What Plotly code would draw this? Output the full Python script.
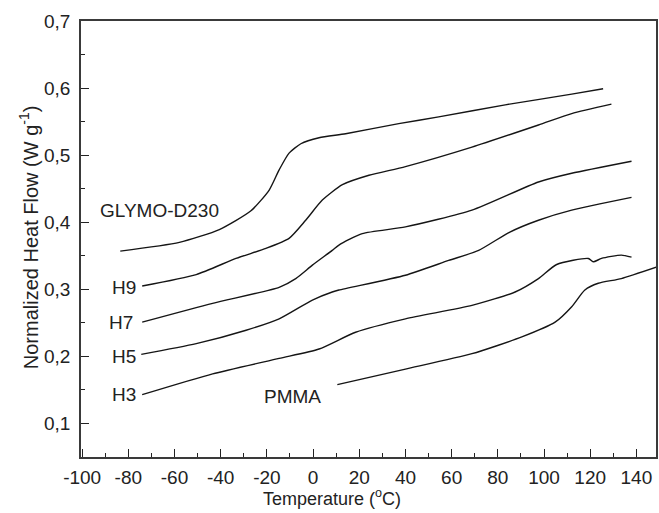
import plotly.graph_objects as go

# ---- data ----
glymo_x = [-83.5, -57.9, -40.6, -26.9, -19.0, -14.7, -10.4, -5.3, 2.6, 14.1, 37.1, 54.4, 83.2, 112.0, 125.6]
glymo_y = [0.357, 0.370, 0.389, 0.417, 0.448, 0.478, 0.503, 0.517, 0.526, 0.532, 0.547, 0.557, 0.575, 0.591, 0.599]

h9_x = [-74.0, -50.6, -33.4, -20.4, -10.4, -3.2, 4.0, 12.7, 24.2, 40.0, 68.8, 97.6, 112.0, 129.2]
h9_y = [0.305, 0.322, 0.346, 0.361, 0.376, 0.403, 0.433, 0.456, 0.470, 0.483, 0.512, 0.545, 0.562, 0.576]

h7_x = [-74.0, -43.5, -14.7, -7.5, -0.3, 8.3, 11.2, 21.3, 40.0, 68.8, 97.6, 112.0, 137.9]
h7_y = [0.251, 0.279, 0.303, 0.316, 0.336, 0.358, 0.366, 0.383, 0.393, 0.418, 0.460, 0.473, 0.491]

h5_x = [-74.4, -50.6, -29.0, -14.7, -0.3, 8.3, 11.2, 40.0, 58.7, 71.7, 85.0, 97.6, 112.0, 137.9]
h5_y = [0.203, 0.219, 0.239, 0.256, 0.284, 0.296, 0.299, 0.321, 0.343, 0.358, 0.385, 0.403, 0.418, 0.437]

h3_x = [-74.0, -43.5, -14.7, 2.6, 18.4, 40.0, 68.8, 87.5, 97.6, 105.5, 119.2, 121.3, 124.9, 133.5, 137.9]
h3_y = [0.143, 0.174, 0.197, 0.211, 0.236, 0.256, 0.276, 0.296, 0.316, 0.337, 0.346, 0.341, 0.346, 0.351, 0.348]

pmma_x = [10.5, 40.0, 68.8, 90.4, 104.8, 112.0, 117.7, 123.5, 133.5, 148.7]
pmma_y = [0.158, 0.181, 0.204, 0.229, 0.251, 0.274, 0.299, 0.309, 0.316, 0.333]

series = [
    ("GLYMO-D230", glymo_x, glymo_y),
    ("H9", h9_x, h9_y),
    ("H7", h7_x, h7_y),
    ("H5", h5_x, h5_y),
    ("H3", h3_x, h3_y),
    ("PMMA", pmma_x, pmma_y),
]

label_text = ["GLYMO-D230", "H9", "H7", "H5", "H3", "PMMA"]
label_x = [-66.3, -82.0, -83.0, -81.8, -81.7, -8.9]
label_y = [0.417, 0.302, 0.251, 0.200, 0.143, 0.140]

x_ticks = [-100, -80, -60, -40, -20, 0, 20, 40, 60, 80, 100, 120, 140]
x_ticktext = ["-100", "-80", "-60", "-40", "-20", "0", "20", "40", "60", "80", "100", "120", "140"]
y_ticks = [0.1, 0.2, 0.3, 0.4, 0.5, 0.6, 0.7]
y_ticktext = ["0,1", "0,2", "0,3", "0,4", "0,5", "0,6", "0,7"]

FONT = "Liberation Sans, Arial, sans-serif"
TXT = "#222222"

fig = go.Figure()
for name, xs, ys in series:
    fig.add_trace(go.Scatter(x=xs, y=ys, mode="lines", name=name,
                             line=dict(color="#151515", width=1.4, shape="spline", smoothing=0.6),
                             showlegend=False))

for t, lx, ly in zip(label_text, label_x, label_y):
    fig.add_annotation(x=lx, y=ly, text=t, showarrow=False,
                       font=dict(family=FONT, size=19, color=TXT))

# axis titles as annotations (positioned like the reference)
fig.add_annotation(xref="paper", yref="paper", x=0.4367, y=-0.094, text="Temperature (<sup>o</sup>C)",
                   showarrow=False, xanchor="center", yanchor="middle",
                   font=dict(family=FONT, size=18, color=TXT))
fig.add_annotation(xref="paper", yref="paper", x=-0.09, y=0.5046, text="Normalized Heat Flow (W g<sup>-1</sup>)",
                   showarrow=False, xanchor="center", yanchor="middle", textangle=-90,
                   font=dict(family=FONT, size=20, color=TXT))

tick_font = dict(family=FONT, size=19, color=TXT)
fig.update_layout(
    width=659, height=513,
    margin=dict(l=81, r=1, t=21, b=56),
    plot_bgcolor="white", paper_bgcolor="white",
    font=tick_font,
    xaxis=dict(range=[-100.5, 148.5], tickvals=x_ticks, ticktext=x_ticktext, ticks="inside", ticklen=8,
               tickcolor="#222222", showline=True, linecolor="#3a3a3a", linewidth=1.5,
               mirror=True, showgrid=False, zeroline=False, ticklabelstandoff=2,
               minor=dict(dtick=10, ticks="inside", ticklen=4, tickcolor="#222222"),
               tickfont=tick_font),
    yaxis=dict(range=[0.05, 0.7], tickvals=y_ticks, ticktext=y_ticktext, ticks="inside", ticklen=8,
               tickcolor="#222222", showline=True, linecolor="#3a3a3a", linewidth=1.5,
               mirror=True, showgrid=False, zeroline=False, ticklabelstandoff=5,
               minor=dict(dtick=0.05, ticks="inside", ticklen=4, tickcolor="#222222"),
               tickfont=tick_font),
)

fig.write_html("out.html")
